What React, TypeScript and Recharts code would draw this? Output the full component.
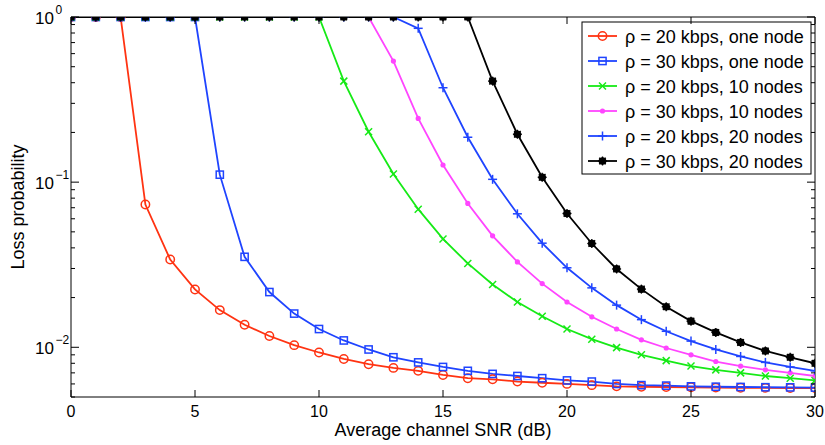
import React from 'react';
import { Customized, Line, LineChart, XAxis, YAxis } from 'recharts';

const snr = [0, 1, 2, 3, 4, 5, 6, 7, 8, 9, 10, 11, 12, 13, 14, 15, 16, 17, 18, 19, 20, 21, 22, 23, 24, 25, 26, 27, 28, 29, 30];

const rate20OneNode = [1, 1, 1, 0.0732, 0.034, 0.0224, 0.0168, 0.0137, 0.0117, 0.0103, 0.0093, 0.0085, 0.0079, 0.0075, 0.0072, 0.0068, 0.0065, 0.0064, 0.0062, 0.0061, 0.006, 0.0059, 0.0058, 0.00577, 0.00575, 0.00573, 0.0057, 0.00569, 0.00568, 0.00567, 0.00566];
const rate30OneNode = [1, 1, 1, 1, 1, 1, 0.111, 0.0353, 0.0216, 0.016, 0.0129, 0.011, 0.0097, 0.0087, 0.0081, 0.0076, 0.0072, 0.0069, 0.0067, 0.0065, 0.0063, 0.0062, 0.006, 0.0059, 0.00586, 0.0058, 0.00577, 0.00575, 0.00573, 0.00572, 0.0057];
const rate20TenNodes = [1, 1, 1, 1, 1, 1, 1, 1, 1, 1, 1, 0.409, 0.202, 0.112, 0.0686, 0.0453, 0.0322, 0.024, 0.0188, 0.0154, 0.0129, 0.0112, 0.00995, 0.009, 0.0083, 0.0077, 0.0073, 0.007, 0.0067, 0.0065, 0.0063];
const rate30TenNodes = [1, 1, 1, 1, 1, 1, 1, 1, 1, 1, 1, 1, 1, 0.541, 0.243, 0.127, 0.0743, 0.0473, 0.0329, 0.0243, 0.0188, 0.0153, 0.0129, 0.0111, 0.0099, 0.009, 0.0082, 0.0077, 0.0073, 0.007, 0.0067];
const rate20TwentyNodes = [1, 1, 1, 1, 1, 1, 1, 1, 1, 1, 1, 1, 1, 1, 0.854, 0.373, 0.187, 0.104, 0.0643, 0.0427, 0.0303, 0.0229, 0.018, 0.0147, 0.0125, 0.0109, 0.0097, 0.0088, 0.0081, 0.0076, 0.0072];
const rate30TwentyNodes = [1, 1, 1, 1, 1, 1, 1, 1, 1, 1, 1, 1, 1, 1, 1, 1, 1, 0.409, 0.195, 0.107, 0.0646, 0.0425, 0.0298, 0.0225, 0.0176, 0.0144, 0.0123, 0.0107, 0.0095, 0.0087, 0.008];

const xTicks = [0, 5, 10, 15, 20, 25, 30];
const yTicks = [
  0.005, 0.006, 0.007, 0.008, 0.009,
  0.01, 0.02, 0.03, 0.04, 0.05, 0.06, 0.07, 0.08, 0.09,
  0.1, 0.2, 0.3, 0.4, 0.5, 0.6, 0.7, 0.8, 0.9,
  1,
];

const series = [
  { key: 'r20one', label: 'ρ = 20 kbps, one node', color: '#ff3312', kind: 'circle', values: rate20OneNode },
  { key: 'r30one', label: 'ρ = 30 kbps, one node', color: '#1f44ff', kind: 'square', values: rate30OneNode },
  { key: 'r20ten', label: 'ρ = 20 kbps, 10 nodes', color: '#16ea16', kind: 'cross', values: rate20TenNodes },
  { key: 'r30ten', label: 'ρ = 30 kbps, 10 nodes', color: '#ff45ff', kind: 'dot', values: rate30TenNodes },
  { key: 'r20twenty', label: 'ρ = 20 kbps, 20 nodes', color: '#1f44ff', kind: 'plus', values: rate20TwentyNodes },
  { key: 'r30twenty', label: 'ρ = 30 kbps, 20 nodes', color: '#000000', kind: 'star', values: rate30TwentyNodes },
];

const data = snr.map((x, i) => {
  const row: Record<string, number> = { snr: x };
  series.forEach((s) => {
    row[s.key] = s.values[i];
  });
  return row;
});

const FONT = '"Liberation Sans", Arial, Helvetica, sans-serif';

function Marker({ kind, cx, cy, color }: { kind: string; cx: number; cy: number; color: string }) {
  const sw = 1.5;
  switch (kind) {
    case 'circle':
      return <circle cx={cx} cy={cy} r={4.2} fill="none" stroke={color} strokeWidth={sw} />;
    case 'square':
      return <rect x={cx - 3.6} y={cy - 3.6} width={7.2} height={7.2} fill="none" stroke={color} strokeWidth={sw} />;
    case 'cross':
      return (
        <g stroke={color} strokeWidth={sw}>
          <line x1={cx - 3.5} y1={cy - 3.5} x2={cx + 3.5} y2={cy + 3.5} />
          <line x1={cx - 3.5} y1={cy + 3.5} x2={cx + 3.5} y2={cy - 3.5} />
        </g>
      );
    case 'dot':
      return <circle cx={cx} cy={cy} r={2.6} fill={color} />;
    case 'plus':
      return (
        <g stroke={color} strokeWidth={sw}>
          <line x1={cx - 4.5} y1={cy} x2={cx + 4.5} y2={cy} />
          <line x1={cx} y1={cy - 4.5} x2={cx} y2={cy + 4.5} />
        </g>
      );
    default:
      return (
        <g stroke={color} strokeWidth={1.3}>
          <circle cx={cx} cy={cy} r={3.2} fill={color} />
          <line x1={cx - 4.5} y1={cy} x2={cx + 4.5} y2={cy} />
          <line x1={cx} y1={cy - 4.5} x2={cx} y2={cy + 4.5} />
          <line x1={cx - 3.3} y1={cy - 3.3} x2={cx + 3.3} y2={cy + 3.3} />
          <line x1={cx - 3.3} y1={cy + 3.3} x2={cx + 3.3} y2={cy - 3.3} />
        </g>
      );
  }
}

const makeDot = (kind: string, color: string) => (p: any) => (
  <g key={`${kind}-${p.index}`}>
    <Marker kind={kind} cx={p.cx} cy={p.cy} color={color} />
  </g>
);

const isDecade = (v: number) => Math.abs(Math.log10(v) - Math.round(Math.log10(v))) < 1e-6;

function LeftTick({ x, y, payload }: any) {
  const v = payload.value;
  const major = isDecade(v);
  const exp = Math.round(Math.log10(v));
  return (
    <g>
      <line x1={x} y1={y} x2={x + (major ? 8 : 4)} y2={y} stroke="#000" strokeWidth={1} />
      {major && (
        <text fontFamily={FONT} fill="#000">
          <tspan x={54} y={y + 6.5} fontSize={17} textAnchor="end">10</tspan>
          <tspan x={55.5} y={y - 3.5} fontSize={12} textAnchor="start">{exp === 0 ? '0' : `\u2212${-exp}`}</tspan>
        </text>
      )}
    </g>
  );
}

function RightTick({ x, y, payload }: any) {
  const major = isDecade(payload.value);
  return <line x1={x} y1={y} x2={x - (major ? 8 : 4)} y2={y} stroke="#000" strokeWidth={1} />;
}

function BottomTick({ x, y, payload }: any) {
  return (
    <g>
      <line x1={x} y1={y} x2={x} y2={y - 7} stroke="#000" strokeWidth={1} />
      <text x={x} y={y + 20} textAnchor="middle" fontSize={16} fontFamily={FONT} fill="#000">
        {payload.value}
      </text>
    </g>
  );
}

function TopTick({ x, y }: any) {
  return <line x1={x} y1={y} x2={x} y2={y + 7} stroke="#000" strokeWidth={1} />;
}

function Titles() {
  return (
    <g fontFamily={FONT} fill="#000">
      <text x={443} y={436} textAnchor="middle" fontSize={18}>
        Average channel SNR (dB)
      </text>
      <text x={24} y={207} textAnchor="middle" fontSize={18} transform="rotate(-90 24 207)">
        Loss probability
      </text>
    </g>
  );
}

function LegendBox() {
  return (
    <g>
      <rect x={582} y={22} width={229} height={152} fill="#fff" stroke="#000" strokeWidth={1} />
      {series.map((s, i) => {
        const cy = 36 + i * 25;
        return (
          <g key={s.key}>
            <line x1={588} y1={cy} x2={617} y2={cy} stroke={s.color} strokeWidth={1.8} />
            <Marker kind={s.kind} cx={602.5} cy={cy} color={s.color} />
            <text x={625} y={cy + 6.5} fontSize={18} fontFamily={FONT} fill="#000">
              {s.label}
            </text>
          </g>
        );
      })}
    </g>
  );
}

export default function App() {
  return (
    <div style={{ position: 'absolute', left: 0, top: 0, width: 825, height: 445, background: '#fff' }}>
      <LineChart width={825} height={445} data={data} margin={{ top: 16, right: 9, bottom: 0, left: 0 }}>
        <XAxis
          dataKey="snr"
          type="number"
          domain={[0, 30]}
          ticks={xTicks}
          interval={0}
          height={48}
          tickSize={0}
          tickMargin={0}
          tickLine={false}
          axisLine={{ stroke: '#000', strokeWidth: 1 }}
          tick={<BottomTick />}
          allowDataOverflow
        />
        <XAxis
          xAxisId="top"
          orientation="top"
          dataKey="snr"
          type="number"
          domain={[0, 30]}
          ticks={xTicks}
          interval={0}
          height={1}
          tickSize={0}
          tickMargin={0}
          tickLine={false}
          axisLine={{ stroke: '#000', strokeWidth: 1 }}
          tick={<TopTick />}
          allowDataOverflow
        />
        <YAxis
          scale="log"
          type="number"
          domain={[0.005, 1]}
          ticks={yTicks}
          interval={0}
          width={71}
          tickSize={0}
          tickMargin={0}
          tickLine={false}
          axisLine={{ stroke: '#000', strokeWidth: 1 }}
          tick={<LeftTick />}
          allowDataOverflow
        />
        <YAxis
          yAxisId="right"
          orientation="right"
          scale="log"
          type="number"
          domain={[0.005, 1]}
          ticks={yTicks}
          interval={0}
          width={1}
          tickSize={0}
          tickMargin={0}
          tickLine={false}
          axisLine={{ stroke: '#000', strokeWidth: 1 }}
          tick={<RightTick />}
          allowDataOverflow
        />
        {series.map((s) => (
          <Line
            key={s.key}
            type="linear"
            dataKey={s.key}
            stroke={s.color}
            strokeWidth={1.8}
            dot={makeDot(s.kind, s.color)}
            activeDot={false}
            isAnimationActive={false}
          />
        ))}
        <Customized component={Titles} />
        <Customized component={LegendBox} />
      </LineChart>
    </div>
  );
}
